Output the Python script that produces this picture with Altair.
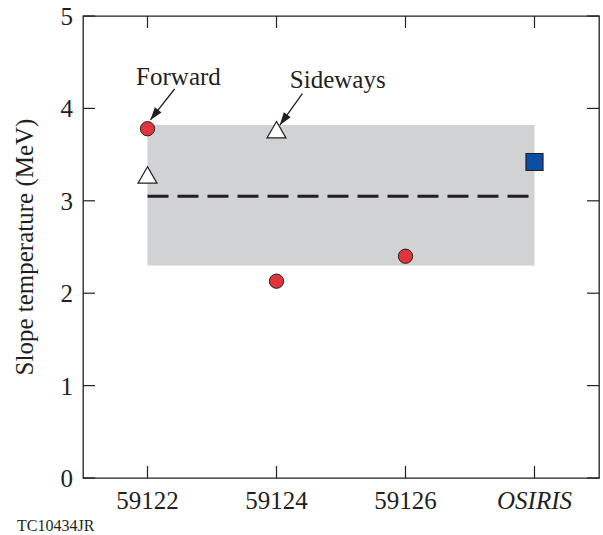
import math

import altair as alt
import pandas as pd

# Shot categories along the x axis
categories = ["59122", "59124", "59126", "OSIRIS"]
italic_categories = ["OSIRIS"]

# Forward-direction slope temperatures (MeV)
forward_pos = [0, 1, 2]
forward_mev = [3.78, 2.13, 2.40]

# Sideways-direction slope temperatures (MeV)
sideways_pos = [0, 1]
sideways_mev = [3.28, 3.77]

# OSIRIS value (MeV)
osiris_pos = [3]
osiris_mev = [3.42]

# Shaded range and its mean
band_from = [0]
band_to = [3]
band_lo = [2.30]
band_hi = [3.82]
mean_mev = [3.05]

# Callouts: label, label anchor, arrow start and arrow tip (data units)
note_text = ["Forward", "Sideways"]
note_x = [0.24, 1.475]
note_y = [4.25, 4.22]
arrow_x0 = [0.21, 1.20]
arrow_y0 = [4.21, 4.16]
arrow_x1 = [0.022, 1.026]
arrow_y1 = [3.875, 3.82]

# Tick positions and labels
x_ticks = [0, 1, 2, 3]
y_ticks = [0, 1, 2, 3, 4, 5]
y_tick_labels = ["0", "1", "2", "3", "4", "5"]
y_title = ["Slope temperature (MeV)"]

caption = ["TC10434JR"]

W, H = 516, 462
TICK = 12
X_DOMAIN = [-0.5, 3.5]
Y_DOMAIN = [0, 5]
INK = "#231f20"
FONT = "'Liberation Serif', 'Times New Roman', Times, serif"
FS = 25

xs = alt.Scale(domain=X_DOMAIN, nice=False, zero=False)
ys = alt.Scale(domain=Y_DOMAIN, nice=False, zero=False)

band_df = pd.DataFrame({"x0": band_from, "x1": band_to, "lo": band_lo, "hi": band_hi})
mean_df = pd.DataFrame({"x0": band_from, "x1": band_to, "y": mean_mev})
fwd_df = pd.DataFrame({"x": forward_pos, "y": forward_mev})
side_df = pd.DataFrame({"x": sideways_pos, "y": sideways_mev})
osi_df = pd.DataFrame({"x": osiris_pos, "y": osiris_mev})
xt_df = pd.DataFrame({"x": x_ticks, "label": categories})
yt_df = pd.DataFrame({"y": y_ticks, "label": y_tick_labels})

# Arrowhead rotation from the arrow direction in screen space
px_x = W / (X_DOMAIN[1] - X_DOMAIN[0])
px_y = H / (Y_DOMAIN[1] - Y_DOMAIN[0])
angles = []
for a, b, c, d in zip(arrow_x0, arrow_y0, arrow_x1, arrow_y1):
    dx = (c - a) * px_x
    dy = -(d - b) * px_y
    angles.append(math.degrees(math.atan2(dx, -dy)) % 360)

arrow_df = pd.DataFrame({"x0": arrow_x0, "y0": arrow_y0, "x1": arrow_x1,
                         "y1": arrow_y1, "angle": angles})
note_df = pd.DataFrame({"label": note_text, "x": note_x, "y": note_y})
cap_df = pd.DataFrame({"label": caption})
ytitle_df = pd.DataFrame({"label": y_title})

X = lambda f: alt.X(f, scale=xs, axis=None)
Y = lambda f: alt.Y(f, scale=ys, axis=None)

band = alt.Chart(band_df).mark_rect(color="#d1d2d4").encode(
    x=X("x0:Q"), x2="x1:Q", y=Y("lo:Q"), y2="hi:Q",
)

mean_line = alt.Chart(mean_df).mark_rule(
    color=INK, strokeWidth=3, strokeDash=[21, 9]
).encode(x=X("x0:Q"), x2="x1:Q", y=Y("y:Q"))

# Inward ticks on all four sides of the frame
tick_style = dict(color=INK, strokeWidth=1.2)
ticks_bottom = alt.Chart(xt_df).mark_rule(**tick_style).encode(
    x=X("x:Q"), y=alt.value(H), y2=alt.value(H - TICK))
ticks_top = alt.Chart(xt_df).mark_rule(**tick_style).encode(
    x=X("x:Q"), y=alt.value(0), y2=alt.value(TICK))
ticks_left = alt.Chart(yt_df).mark_rule(**tick_style).encode(
    y=Y("y:Q"), x=alt.value(0), x2=alt.value(TICK))
ticks_right = alt.Chart(yt_df).mark_rule(**tick_style).encode(
    y=Y("y:Q"), x=alt.value(W), x2=alt.value(W - TICK))

# Tick labels
label_style = dict(font=FONT, fontSize=FS, color=INK, baseline="alphabetic")
is_italic = alt.FieldOneOfPredicate(field="label", oneOf=italic_categories)
x_labels = alt.Chart(xt_df).transform_filter(~is_italic).mark_text(
    align="center", **label_style
).encode(x=X("x:Q"), y=alt.value(H + 31), text="label:N")
x_labels_it = alt.Chart(xt_df).transform_filter(is_italic).mark_text(
    align="center", fontStyle="italic", **label_style
).encode(x=X("x:Q"), y=alt.value(H + 31), text="label:N")
y_labels = alt.Chart(yt_df).mark_text(
    align="right", dy=9, **label_style
).encode(y=Y("y:Q"), x=alt.value(-10), text="label:N")
y_label_title = alt.Chart(ytitle_df).mark_text(
    align="center", angle=270, **label_style
).encode(x=alt.value(-50), y=alt.value(H / 2), text="label:N")

fwd = alt.Chart(fwd_df).mark_point(
    shape="circle", filled=True, fill="#e0353d", stroke=INK, strokeWidth=1,
    size=205, opacity=1,
).encode(x=X("x:Q"), y=Y("y:Q"))

side = alt.Chart(side_df).mark_point(
    shape="triangle-up", filled=True, fill="white", stroke=INK, strokeWidth=1.2,
    size=360, opacity=1,
).encode(x=X("x:Q"), y=Y("y:Q"))

osi = alt.Chart(osi_df).mark_point(
    shape="square", filled=True, fill="#0b4fa3", stroke=INK, strokeWidth=1.2,
    size=289, opacity=1,
).encode(x=X("x:Q"), y=Y("y:Q"))

shafts = alt.Chart(arrow_df).mark_rule(color=INK, strokeWidth=1.3).encode(
    x=X("x0:Q"), x2="x1:Q", y=Y("y0:Q"), y2="y1:Q",
)

heads = alt.Chart(arrow_df).mark_point(
    shape="M0,0L-0.6,1.8L0.6,1.8Z", filled=True, fill=INK, strokeWidth=0,
    size=200, opacity=1,
).encode(x=X("x1:Q"), y=Y("y1:Q"), angle=alt.Angle("angle:Q", scale=None))

notes = alt.Chart(note_df).mark_text(align="center", **label_style).encode(
    x=X("x:Q"), y=Y("y:Q"), text="label:N",
)

cap = alt.Chart(cap_df).mark_text(
    font=FONT, fontSize=16, color=INK, align="left", baseline="alphabetic",
).encode(x=alt.value(-66), y=alt.value(515), text="label:N")

chart = alt.layer(
    band, mean_line, ticks_bottom, ticks_top, ticks_left, ticks_right,
    shafts, heads, fwd, side, osi, notes,
    x_labels, x_labels_it, y_labels, y_label_title, cap,
).properties(
    width=W, height=H,
    autosize=alt.AutoSizeParams(type="none"),
    padding={"left": 83, "top": 16, "right": 4, "bottom": 57},
    background="white",
).configure_view(stroke=INK, strokeWidth=1.3)

chart.save("out.html", embed_options={"renderer": "svg", "actions": False})
